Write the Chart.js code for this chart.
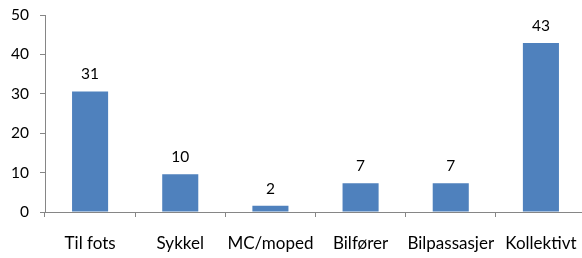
<!DOCTYPE html>
<html>
<head>
<meta charset="utf-8">
<script src="https://cdn.jsdelivr.net/npm/chart.js@4/dist/chart.umd.min.js"></script>
<style>
  html, body { margin: 0; padding: 0; background: #fff; overflow: hidden; }
  #wrap { width: 590px; height: 258px; }
</style>
</head>
<body>
<div id="wrap"><canvas id="c" width="590" height="258"></canvas></div>
<script>
const categories = ["Til fots", "Sykkel", "MC/moped", "Bilfører", "Bilpassasjer", "Kollektivt"];
const values = [30.6, 9.6, 1.6, 7.3, 7.3, 42.9];
const yTicks = [0, 10, 20, 30, 40, 50];

const FONT = "Lato";
const axisColor = "#868686";

const dataLabels = {
  id: "dataLabels",
  afterDatasetsDraw(chart) {
    const ctx = chart.ctx;
    const meta = chart.getDatasetMeta(0);
    ctx.save();
    ctx.font = "15.5px " + FONT;
    ctx.fillStyle = "#000";
    ctx.textAlign = "center";
    ctx.textBaseline = "middle";
    meta.data.forEach((bar, i) => {
      ctx.fillText(String(Math.round(values[i])), bar.x, bar.y - 17);
    });
    ctx.restore();
  }
};

new Chart(document.getElementById("c"), {
  type: "bar",
  data: {
    labels: categories,
    datasets: [{
      data: values,
      backgroundColor: "#4F81BD",
      borderWidth: 0,
      categoryPercentage: 1,
      barPercentage: 0.4
    }]
  },
  options: {
    responsive: false,
    animation: false,
    layout: { padding: { top: 15, right: 4, left: 0, bottom: 0 } },
    plugins: { legend: { display: false }, tooltip: { enabled: false } },
    scales: {
      x: {
        grid: { display: true, drawOnChartArea: false, offset: true, tickLength: 5, color: axisColor, tickColor: axisColor },
        border: { display: true, color: axisColor, width: 1 },
        ticks: { color: "#000", font: { family: FONT, size: 17 }, padding: 16, maxRotation: 0, autoSkip: false },
        afterFit(scale) { scale.height = 46; scale.paddingLeft = 0; scale.paddingRight = 0; }
      },
      y: {
        min: 0, max: 50,
        afterBuildTicks(scale) { scale.ticks = yTicks.map(v => ({ value: v })); },
        grid: { display: true, drawOnChartArea: false, tickLength: 5, color: axisColor, tickColor: axisColor },
        border: { display: true, color: axisColor, width: 1 },
        ticks: { color: "#000", font: { family: FONT, size: 15.5 }, padding: 11 },
        afterFit(scale) { scale.width = 45; scale.paddingTop = 0; scale.paddingBottom = 0; }
      }
    }
  },
  plugins: [dataLabels]
});
</script>
</body>
</html>
